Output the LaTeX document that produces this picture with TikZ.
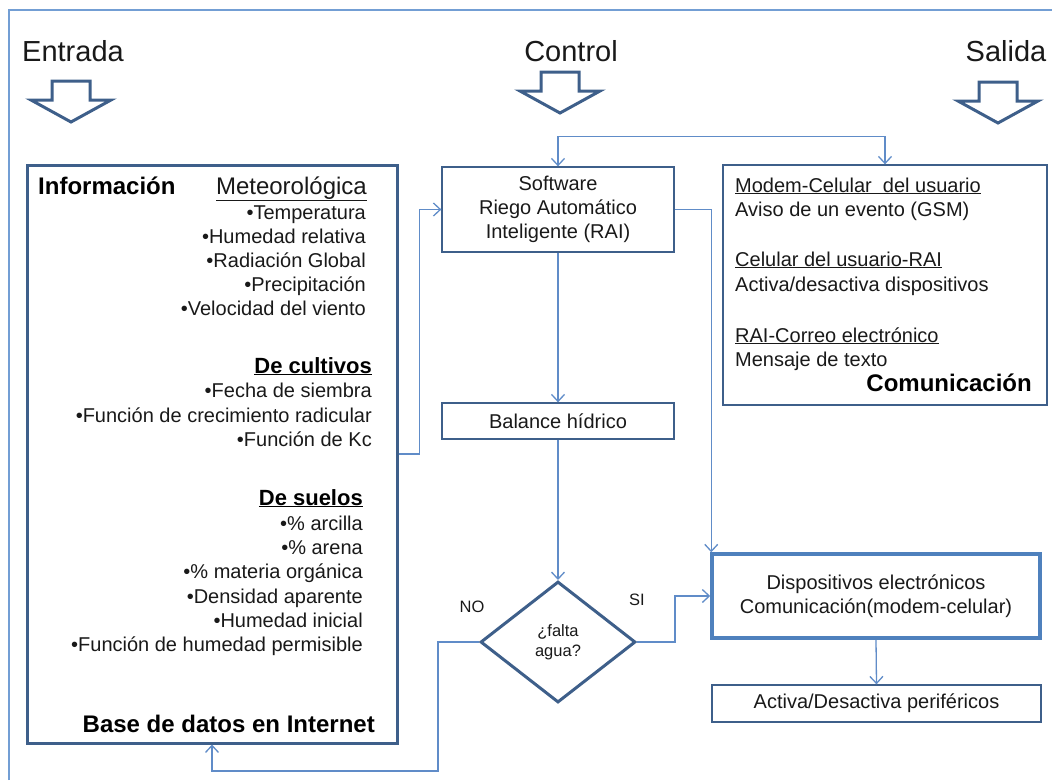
\documentclass[tikz,border=0pt]{standalone}
\usepackage{fontspec}
\setmainfont{Liberation Sans}
\usetikzlibrary{arrows.meta, shapes.geometric, calc}

\definecolor{darkblue}{RGB}{62,95,138}
\definecolor{connblue}{RGB}{96,140,200}
\definecolor{frameblue}{RGB}{115,158,212}
\definecolor{accentblue}{RGB}{79,129,189}
\definecolor{textgray}{RGB}{25,25,25}

\tikzset{
  framel/.style={draw=frameblue, line width=1.5pt},
  head/.style={font=\fontsize{29}{31}\selectfont, text=textgray, inner sep=0pt, anchor=base},
  box/.style={draw=darkblue, line width=1.3pt, inner sep=0pt, align=center, text=textgray,
    font=\fontsize{20}{24}\selectfont},
  thickbox/.style={draw=darkblue, line width=3pt, inner sep=0pt},
  devbox/.style={box, draw=accentblue, line width=3.5pt},
  item/.style={font=\fontsize{20}{24}\selectfont, text=textgray, inner sep=0pt},
  subhead/.style={font=\fontsize{24}{26}\selectfont, text=textgray, inner sep=0pt},
  boldlbl/.style={font=\fontsize{24}{26}\selectfont\bfseries, inner sep=0pt},
  boldsub/.style={font=\fontsize{22}{24}\selectfont\bfseries, inner sep=0pt},
  small/.style={font=\fontsize{16.5}{20}\selectfont, text=textgray, inner sep=0pt, align=center},
  conn/.style={draw=connblue, line width=1.3pt, -{Straight Barb[length=7pt,width=13pt]}},
  blockarrow/.style={draw=darkblue, line width=3pt, fill=white},
  pics/downblock/.style={code={
    \draw[blockarrow] (-19,0) -- (19,0) -- (19,19) -- (40,19) -- (0,41) -- (-40,19) -- (-19,19) -- cycle;
  }},
}

\begin{document}
\begin{tikzpicture}[x=1pt, y=-1pt]
  \useasboundingbox (0,0) rectangle (1052,780);
  \draw[framel] (9,780) -- (9,10) -- (1052,10);

  % encabezados y flechas de bloque
  \node[head] (entrada) at (73,61) {Entrada};
  \node[head] (control) at (571,61) {Control};
  \node[head] (salida) at (1006,61) {Salida};
  \pic at (71,81) {downblock};
  \pic at (560,72) {downblock};
  \pic at (998,82) {downblock};

  % entrada: base de datos
  \node[thickbox, minimum width=370, minimum height=578] (info) at (212,454) {};
  \node[boldlbl, anchor=base west] (infotit) at (38,194) {Información};
  \node[subhead, anchor=base east] (meteo) at (367,194) {\underline{Meteorológica}};
  \foreach \t [count=\i] in {•Temperatura, •Humedad relativa, •Radiación Global, •Precipitación, •Velocidad del viento}
    \node[item, anchor=base east] (met\i) at (366,{195+24*\i}) {\t};
  \node[boldsub, anchor=base east] (cult) at (372,373) {\underline{De cultivos}};
  \foreach \t [count=\i] in {•Fecha de siembra, •Función de crecimiento radicular, •Función de Kc}
    \node[item, anchor=base east] (cul\i) at (372,{373+24.5*\i}) {\t};
  \node[boldsub, anchor=base east] (suel) at (363,505) {\underline{De suelos}};
  \foreach \t [count=\i] in {•\% arcilla, •\% arena, •\% materia orgánica, •Densidad aparente, •Humedad inicial, •Función de humedad permisible}
    \node[item, anchor=base east] (sue\i) at (363,{506+24.3*\i}) {\t};
  \node[boldlbl, anchor=base east] (basetit) at (375,732) {Base de datos en Internet};

  % control
  \node[box, minimum width=232, minimum height=85] (soft) at (558,209.5)
    {Software\\Riego Automático\\Inteligente (RAI)};
  \node[box, minimum width=232, minimum height=36] (bal) at (558,421) {Balance hídrico};
  \node[draw=darkblue, line width=3pt, diamond, minimum width=155, minimum height=121,
    inner sep=0pt, small] (dec) at (558,642) {¿falta\\agua?};
  \node[small] (no) at (472,607) {NO};
  \node[small] (si) at (637,600) {SI};

  % salida
  \node[box, minimum width=324, minimum height=240] (comm) at (885,285) {};
  \foreach \t/\y [count=\i] in {{\underline{Modem-Celular~ del usuario}}/192, {Aviso de un evento (GSM)}/216,
      {\underline{Celular del usuario-RAI}}/266, {Activa/desactiva dispositivos}/291,
      {\underline{RAI-Correo electrónico}}/342, {Mensaje de texto}/366}
    \node[item, anchor=base west] (com\i) at (735,\y) {\t};
  \node[boldlbl, anchor=base east] (commtit) at (1032,391) {Comunicación};
  \node[devbox, minimum width=328, minimum height=84] (disp) at (876,596)
    {Dispositivos electrónicos\\Comunicación(modem-celular)};
  \node[box, minimum width=329, minimum height=37] (act) at (876.5,703.5) {Activa/Desactiva periféricos};

  % conectores
  \coordinate (low) at (438,771);
  \draw[conn] (info.east) -- ++(21,0) |- (soft.west);
  \draw[conn, {Straight Barb[length=7pt,width=13pt]}-{Straight Barb[length=7pt,width=13pt]}]
    (soft.north) -- ++(0,-30) -| (comm.north);
  \draw[conn] (soft.east) -| ([xshift=1pt]disp.north west);
  \draw[conn] (soft.south) -- (bal.north);
  \draw[conn] (bal.south) -- (dec.north);
  \draw[conn] (dec.east) -- ++(38,0) |- (disp.west);
  \draw[conn] (dec.west) -| (low) -| (info.south);
  \draw[conn] (disp.south) -- (act.north);
\end{tikzpicture}
\end{document}
